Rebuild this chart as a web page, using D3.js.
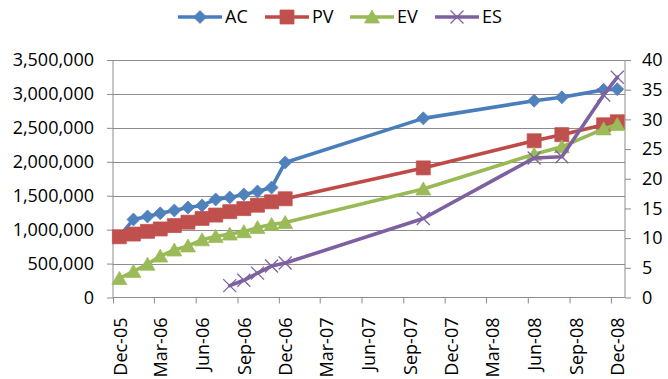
<!DOCTYPE html>
<html>
<head>
<meta charset="utf-8">
<script src="https://cdn.jsdelivr.net/npm/d3@7/dist/d3.min.js"></script>
<style>
  html, body { margin: 0; padding: 0; background: #fff; }
  svg { display: block; }
  text { font-family: "Open Sans", sans-serif; fill: #000; }
</style>
</head>
<body>
<svg id="chart" width="668" height="379"></svg>
<script>
// Reporting dates (mid-month status dates)
const dates = [
  "2005-12-15", "2006-01-15", "2006-02-15", "2006-03-15", "2006-04-15",
  "2006-05-15", "2006-06-15", "2006-07-15", "2006-08-15", "2006-09-15",
  "2006-10-15", "2006-11-15", "2006-12-15", "2007-10-15", "2008-06-15",
  "2008-08-15", "2008-11-15", "2008-12-15"
];
// Actual cost
const acValues = [900000, 1150000, 1195000, 1240000, 1283000, 1327000, 1357000, 1445000, 1475000,
  1519000, 1563000, 1620000, 1990000, 2640000, 2900000, 2950000, 3060000, 3070000];
// Planned value
const pvValues = [895000, 935000, 975000, 1010000, 1060000, 1110000, 1165000, 1215000, 1265000,
  1310000, 1360000, 1410000, 1455000, 1910000, 2310000, 2400000, 2545000, 2590000];
// Earned value
const evValues = [280000, 385000, 490000, 610000, 700000, 760000, 850000, 900000, 935000,
  970000, 1030000, 1075000, 1105000, 1600000, 2110000, 2220000, 2485000, 2550000];
// Earned schedule (right axis), reported from Aug-06 on
const esDates = ["2006-08-15", "2006-09-15", "2006-10-15", "2006-11-15", "2006-12-15",
  "2007-10-15", "2008-06-15", "2008-08-15", "2008-11-15", "2008-12-15"];
const esValues = [2.0, 2.9, 4.1, 5.3, 5.8, 13.3, 23.5, 23.7, 34.1, 37.1];

const xTickDates = ["2005-12-01", "2006-03-01", "2006-06-01", "2006-09-01", "2006-12-01",
  "2007-03-01", "2007-06-01", "2007-09-01", "2007-12-01", "2008-03-01", "2008-06-01",
  "2008-09-01", "2008-12-01"];
const leftTicks = [0, 500000, 1000000, 1500000, 2000000, 2500000, 3000000, 3500000];
const rightTicks = [0, 5, 10, 15, 20, 25, 30, 35, 40];

const parse = d3.utcParse("%Y-%m-%d");
const svg = d3.select("#chart");

const plot = { left: 113, right: 625, top: 60, bottom: 297.5 };

const x = d3.scaleUtc()
  .domain([parse("2005-12-01"), parse("2009-01-01")])
  .range([plot.left, plot.right]);
const yL = d3.scaleLinear().domain([0, 3500000]).range([plot.bottom, plot.top]);
const yR = d3.scaleLinear().domain([0, 40]).range([plot.bottom, plot.top]);

const gridColor = "#8c8c8c";

// Horizontal gridlines from the left axis
svg.append("g")
  .selectAll("line")
  .data(leftTicks.filter(d => d > 0))
  .join("line")
  .attr("x1", plot.left).attr("x2", plot.right)
  .attr("y1", d => Math.round(yL(d)) + 0.5).attr("y2", d => Math.round(yL(d)) + 0.5)
  .attr("stroke", gridColor).attr("stroke-width", 1);

// Left axis
const gL = svg.append("g")
  .attr("transform", `translate(${plot.left},0)`)
  .call(d3.axisLeft(yL).tickValues(leftTicks).tickFormat(d3.format(",")).tickSize(6).tickPadding(13));
gL.selectAll("text").style("font-size", "18px");

// Right axis
const gR = svg.append("g")
  .attr("transform", `translate(${plot.right},0)`)
  .call(d3.axisRight(yR).tickValues(rightTicks).tickSize(6).tickPadding(11));
gR.selectAll("text").style("font-size", "18px");

// Bottom date axis with rotated labels
const gX = svg.append("g")
  .attr("transform", `translate(0,${plot.bottom})`)
  .call(d3.axisBottom(x).tickValues(xTickDates.map(parse)).tickFormat(d3.utcFormat("%b-%y")).tickSize(6));
gX.selectAll("text")
  .style("font-size", "18px")
  .style("text-anchor", "end")
  .attr("transform", "rotate(-90)")
  .attr("x", -20)
  .attr("y", 13)
  .attr("dy", 0);

[gL, gR, gX].forEach(g => {
  g.selectAll(".domain").attr("stroke", gridColor);
  g.selectAll(".tick line").attr("stroke", gridColor);
});
gX.select(".domain").attr("d", `M${plot.left},0H${plot.right}`);
gL.select(".domain").attr("d", `M0,${plot.bottom}V${plot.top}`);
gR.select(".domain").attr("d", `M0,${plot.bottom}V${plot.top}`);

// Marker shapes
const markers = {
  diamond: "M0,-6.5L6.5,0L0,6.5L-6.5,0Z",
  square: "M-7,-7H7V7H-7Z",
  triangle: "M0,-7L7.5,6L-7.5,6Z",
  cross: "M-6.5,-6.5L6.5,6.5M-6.5,6.5L6.5,-6.5"
};

const series = [
  { name: "AC", dates: dates, values: acValues, y: yL, line: "#4A7EBB", fill: "#4F81BD", marker: "diamond" },
  { name: "PV", dates: dates, values: pvValues, y: yL, line: "#BE4B48", fill: "#C0504D", marker: "square" },
  { name: "EV", dates: dates, values: evValues, y: yL, line: "#98B954", fill: "#9BBB59", marker: "triangle" },
  { name: "ES", dates: esDates, values: esValues, y: yR, line: "#7D60A0", fill: "#7F63A1", marker: "cross" }
];

function drawMarker(g, s) {
  const p = g.append("path").attr("d", markers[s.marker]);
  if (s.marker === "cross") {
    p.attr("fill", "none").attr("stroke", s.fill).attr("stroke-width", 1.3);
  } else {
    p.attr("fill", s.fill).attr("stroke", s.fill).attr("stroke-width", 0.75);
  }
}

series.forEach(s => {
  const pts = s.dates.map((d, i) => [x(parse(d)), s.y(s.values[i])]);
  const g = svg.append("g");
  g.append("path")
    .attr("d", d3.line()(pts))
    .attr("fill", "none")
    .attr("stroke", s.line)
    .attr("stroke-width", 3.6)
    .attr("stroke-linejoin", "round")
    .attr("stroke-linecap", "round");
  pts.forEach(p => {
    const m = g.append("g").attr("transform", `translate(${p[0]},${p[1]})`);
    drawMarker(m, s);
  });
});

// Legend
const legend = svg.append("g").attr("transform", "translate(178,17)");
const legendStep = [0, 87, 172, 257];
series.forEach((s, i) => {
  const item = legend.append("g").attr("transform", `translate(${legendStep[i]},0)`);
  item.append("line")
    .attr("x1", 0).attr("x2", 44).attr("y1", 0).attr("y2", 0)
    .attr("stroke", s.line).attr("stroke-width", 3.6);
  drawMarker(item.append("g").attr("transform", "translate(22,0)"), s);
  item.append("text")
    .attr("x", 47).attr("y", 0).attr("dy", "0.35em")
    .style("font-size", "18px")
    .text(s.name);
});
</script>
</body>
</html>
